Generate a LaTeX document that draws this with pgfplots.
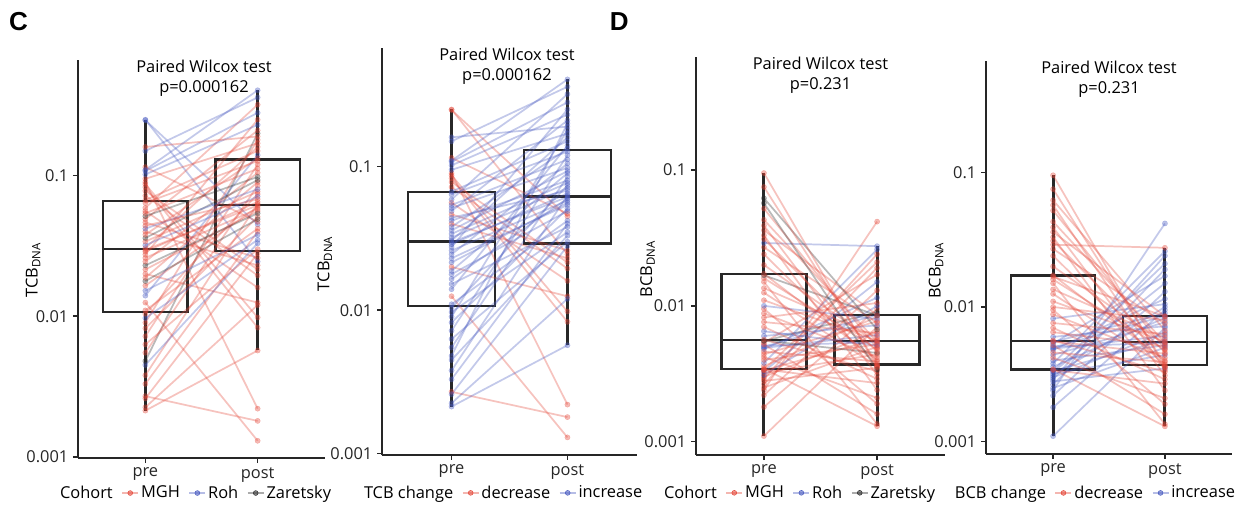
\documentclass[border=0pt]{standalone}
\usepackage{fontspec}
\setmainfont{Open Sans}
\newfontfamily\letterfont{Liberation Sans}
\usepackage{pgfplots}
\usepackage{pgfplotstable}
\pgfplotsset{compat=1.18}

\definecolor{cMGH}{RGB}{228,72,58}
\definecolor{cRoh}{RGB}{72,90,192}
\definecolor{cZar}{RGB}{45,45,45}
\colorlet{cDec}{cMGH}
\colorlet{cInc}{cRoh}
\definecolor{boxcol}{RGB}{40,40,40}

% TCB_DNA: pre, post, cohort (0 MGH, 1 Roh, 2 Zaretsky)
\pgfplotstableread{
pre post coh
0.2500 0.0245 1
0.2480 0.0450 1
0.0900 0.0022 0
0.0870 0.0098 0
0.0830 0.0083 0
0.0125 0.0013 0
0.0027 0.0018 0
0.0780 0.0215 0
0.0720 0.0195 0
0.0560 0.0160 0
0.0400 0.0230 0
0.0465 0.0260 0
0.1150 0.0470 0
0.0200 0.0125 0
0.00213 0.0057 0
0.00225 0.0120 0
0.0026 0.0280 0
0.0033 0.0400 0
0.0038 0.0630 0
0.0045 0.0330 1
0.0048 0.2000 2
0.0055 0.0850 0
0.0063 0.0300 0
0.0072 0.1200 0
0.0082 0.0510 0
0.0090 0.1800 0
0.0097 0.0350 1
0.0104 0.0740 0
0.0110 0.0420 0
0.0140 0.1400 1
0.0152 0.0380 1
0.0165 0.0600 0
0.0178 0.0490 2
0.0188 0.0900 0
0.0215 0.0560 0
0.0230 0.0540 2
0.0245 0.1050 0
0.0260 0.0580 0
0.0275 0.2500 0
0.0288 0.0650 0
0.0297 0.0615 0
0.0305 0.1600 0
0.0320 0.0710 1
0.0340 0.0770 0
0.0360 0.0930 2
0.0380 0.1330 0
0.0420 0.0800 1
0.0440 0.0680 0
0.0490 0.2100 0
0.0515 0.0980 2
0.0540 0.1120 0
0.0590 0.3200 0
0.0640 0.1270 0
0.0670 0.1500 0
0.0950 0.1700 0
0.1020 0.2300 1
0.1080 0.2800 1
0.1500 0.3600 1
0.1600 0.1900 0
0.1100 0.4050 1
}\tcb

% BCB_DNA
\pgfplotstableread{
pre post coh
0.00110 0.0070 0
0.00180 0.0095 0
0.00220 0.0130 0
0.00240 0.0417 0
0.00250 0.0050 0
0.00265 0.0190 0
0.00280 0.0035 0
0.00290 0.0240 0
0.00300 0.0065 0
0.00310 0.0100 1
0.00320 0.0044 0
0.00330 0.0150 1
0.00335 0.0057 0
0.00338 0.0210 0
0.00360 0.0083 0
0.00380 0.0260 1
0.00400 0.0052 0
0.00440 0.0077 0
0.00480 0.0115 1
0.00490 0.0061 1
0.00500 0.0086 1
0.00510 0.0054 1
0.00535 0.0170 0
0.00550 0.0090 2
0.00600 0.0072 1
0.00820 0.0105 0
0.00340 0.0027 0
0.00345 0.0013 0
0.00420 0.0021 0
0.00460 0.0039 0
0.00520 0.0016 0
0.00555 0.0045 2
0.00565 0.0033 0
0.00650 0.0051 1
0.00700 0.0029 0
0.00760 0.0063 0
0.00880 0.0042 0
0.00950 0.0019 0
0.01000 0.0080 1
0.01100 0.00555 0
0.01250 0.0036 0
0.01350 0.0059 0
0.01500 0.00135 0
0.01600 0.0048 0
0.01680 0.0085 2
0.01720 0.0040 0
0.02000 0.0053 0
0.02400 0.00365 0
0.02700 0.0075 0
0.02900 0.0275 1
0.03100 0.0046 0
0.03300 0.0024 0
0.03600 0.00855 0
0.03900 0.0031 0
0.04300 0.00545 0
0.05200 0.0049 0
0.05700 0.0034 2
0.06200 0.0067 2
0.07500 0.00375 0
0.09500 0.00355 0
}\bcb

\newcommand\fs{\fontsize{12.3}{14.6}\selectfont}

% #1 table, #2 colouring: 0 = cohort, 1 = change
\newcommand\drawpairs[2]{%
  \pgfplotstablegetrowsof{#1}%
  \edef\nrows{\pgfplotsretval}%
  \pgfplotsforeachungrouped \i in {1,...,\nrows}{%
    \pgfplotstablegetelem{\numexpr\i-1\relax}{pre}\of#1\let\va\pgfplotsretval
    \pgfplotstablegetelem{\numexpr\i-1\relax}{post}\of#1\let\vb\pgfplotsretval
    \pgfplotstablegetelem{\numexpr\i-1\relax}{coh}\of#1\let\vc\pgfplotsretval
    \ifnum#2=0\relax
      \ifcase\vc\relax \def\cn{cMGH}\or \def\cn{cRoh}\or \def\cn{cZar}\fi
    \else
      \ifdim\vb pt>\va pt\relax \def\cn{cInc}\else \def\cn{cDec}\fi
    \fi
    \edef\tmp{\noexpand\addplot[forget plot, line width=1.3pt, draw opacity=0.33,
      mark=*, mark size=2pt,
      mark options={solid, draw opacity=0.38, fill opacity=0.38, line width=0.2pt},
      color=\cn] coordinates {(0,\va) (1,\vb)};}%
    \tmp
  }%
}

% box: x-left, x-centre, x-right, lower whisker, Q1, median, Q3, upper whisker
\newcommand\drawbox[8]{%
  \addplot[forget plot, line width=2.2pt, color=boxcol, mark=none] coordinates {(#2,#4) (#2,#5)};
  \addplot[forget plot, line width=2.2pt, color=boxcol, mark=none] coordinates {(#2,#7) (#2,#8)};
  \addplot[forget plot, line width=1.8pt, color=boxcol, mark=none, line cap=rect] coordinates {(#1,#5) (#3,#5) (#3,#7) (#1,#7) (#1,#5)};
  \addplot[forget plot, line width=1.8pt, color=boxcol, mark=none] coordinates {(#1,#6) (#3,#6)};
}

\pgfplotsset{
  every axis/.append style={
    scale only axis, clip=false,
    xmin=-0.6, xmax=1.6,
    xtick={0,1}, xticklabels={pre,post},
    ytick={0.001,0.01,0.1}, yticklabels={0.001,0.01,0.1},
    yminorticks=false,
    axis x line*=bottom, axis y line*=left,
    axis line style={line width=1.1pt, color=black!85},
    major tick style={line width=1.1pt, color=black!85},
    tick align=outside, major tick length=3.75pt,
    tick label style={font=\fs, text=black!85},
    label style={font=\fs},
    legend columns=-1,
    legend style={draw=none, fill=none, anchor=center, font=\fs,
      inner sep=0pt, column sep=0pt, nodes={inner sep=1.5pt},
      /tikz/every even column/.append style={column sep=5pt}},
    legend image code/.code={
      \draw[#1, line width=1.2pt, draw opacity=0.4] (0pt,0pt) -- (12pt,0pt);
      \fill[#1, fill opacity=0.55] (6pt,0pt) circle (1.8pt);},
  },
}
\tikzset{mytitle/.style={font=\fs, align=center, anchor=north, inner sep=0pt, text=black}}

\begin{document}
\begin{tikzpicture}
\path[use as bounding box] (0pt,0pt) rectangle (933pt,-381pt);

\node[font=\letterfont\bfseries\fontsize{19.5}{21}\selectfont] at (13.8pt,-15.9pt) {C};
\node[font=\letterfont\bfseries\fontsize{19.5}{21}\selectfont] at (464.5pt,-15.9pt) {D};

% ---- Panel C left ----
\begin{axis}[ymode=log, at={(58.5pt,-343.5pt)}, anchor=south west,
  width=185.25pt, height=298.5pt, ymin=0.00098, ymax=0.665,
  ylabel={TCB\textsubscript{DNA}},
  ylabel style={at={(axis description cs:-0.182,0.472)}, anchor=center},
  legend style={at={(0.476,-0.088)}}]
\drawbox{-0.375}{0}{0.375}{0.00213}{0.0107}{0.0301}{0.0663}{0.25}
\drawbox{0.625}{1}{1.375}{0.00572}{0.0291}{0.0621}{0.130}{0.405}
\drawpairs{\tcb}{0}
\addlegendimage{empty legend}\addlegendentry{Cohort}
\addlegendimage{cMGH}\addlegendentry{MGH}
\addlegendimage{cRoh}\addlegendentry{Roh}
\addlegendimage{cZar}\addlegendentry{Zaretsky}
\node[mytitle] at (rel axis cs:0.51,1) {Paired Wilcox test\\p=0.000162};
\end{axis}

% ---- Panel C right ----
\begin{axis}[ymode=log, at={(286.5pt,-341.25pt)}, anchor=south west,
  width=191.25pt, height=305.25pt, ymin=0.00098, ymax=0.67,
  ylabel={TCB\textsubscript{DNA}},
  ylabel style={at={(axis description cs:-0.224,0.47)}, anchor=center},
  legend style={at={(0.475,-0.093)}}]
\drawbox{-0.375}{0}{0.375}{0.00213}{0.0107}{0.0301}{0.0663}{0.25}
\drawbox{0.625}{1}{1.375}{0.00572}{0.0291}{0.0621}{0.130}{0.405}
\drawpairs{\tcb}{1}
\addlegendimage{empty legend}\addlegendentry{TCB change}
\addlegendimage{cDec}\addlegendentry{decrease}
\addlegendimage{cInc}\addlegendentry{increase}
\node[mytitle] at (rel axis cs:0.49,1) {Paired Wilcox test\\p=0.000162};
\end{axis}

% ---- Panel D left ----
\begin{axis}[ymode=log, at={(522pt,-341.25pt)}, anchor=south west,
  width=186.75pt, height=298.5pt, ymin=0.000798, ymax=0.679,
  ylabel={BCB\textsubscript{DNA}},
  ylabel style={at={(axis description cs:-0.195,0.467)}, anchor=center},
  legend style={at={(0.416,-0.095)}}]
\drawbox{-0.375}{0}{0.375}{0.0011}{0.00343}{0.0056}{0.0171}{0.095}
\drawbox{0.625}{1}{1.375}{0.0013}{0.00371}{0.0055}{0.00855}{0.0275}
\drawpairs{\bcb}{0}
\addlegendimage{empty legend}\addlegendentry{Cohort}
\addlegendimage{cMGH}\addlegendentry{MGH}
\addlegendimage{cRoh}\addlegendentry{Roh}
\addlegendimage{cZar}\addlegendentry{Zaretsky}
\node[mytitle] at (rel axis cs:0.5,1) {Paired Wilcox test\\p=0.231};
\end{axis}

% ---- Panel D right ----
\begin{axis}[ymode=log, at={(739.5pt,-340.5pt)}, anchor=south west,
  width=184.5pt, height=294.75pt, ymin=0.00081, ymax=0.67,
  ylabel={BCB\textsubscript{DNA}},
  ylabel style={at={(axis description cs:-0.203,0.467)}, anchor=center},
  legend style={at={(0.443,-0.099)}}]
\drawbox{-0.375}{0}{0.375}{0.0011}{0.00343}{0.0056}{0.0171}{0.095}
\drawbox{0.625}{1}{1.375}{0.0013}{0.00371}{0.0055}{0.00855}{0.0275}
\drawpairs{\bcb}{1}
\addlegendimage{empty legend}\addlegendentry{BCB change}
\addlegendimage{cDec}\addlegendentry{decrease}
\addlegendimage{cInc}\addlegendentry{increase}
\node[mytitle] at (rel axis cs:0.5,1) {Paired Wilcox test\\p=0.231};
\end{axis}
\end{tikzpicture}
\end{document}
